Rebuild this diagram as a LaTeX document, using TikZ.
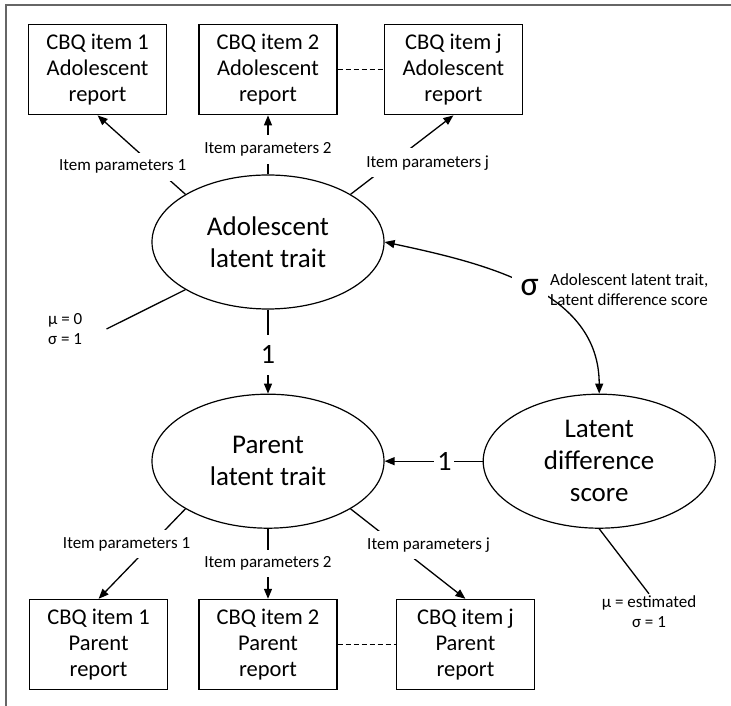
\documentclass[tikz,border=0pt]{standalone}
\usepackage{fontspec}
\setmainfont{Carlito}
\usetikzlibrary{shapes.geometric, positioning, arrows.meta}
\tikzset{report/.style = {rectangle, draw, line width=1.4pt, minimum width=138pt,
    minimum height=90pt, align=center, font=\fontsize{22.5}{26}\selectfont}}
\tikzset{trait/.style = {ellipse, draw, line width=1.2pt, minimum width=232pt,
    minimum height=134pt, inner sep=0pt, align=center, font=\fontsize{27}{32}\selectfont}}
\tikzset{param/.style = {fill=white, inner xsep=2pt, inner ysep=7pt,
    font=\fontsize{17}{20}\selectfont}}
\tikzset{note/.style = {inner sep=2pt, font=\fontsize{17}{20}\selectfont}}
\tikzset{weight/.style = {fill=white, inner sep=3pt, font=\fontsize{28}{28}\selectfont}}
\tikzset{link/.style = {line width=1.3pt}}
\tikzset{figframe/.style = {draw=gray!80!black, line width=2pt}}

\begin{document}
\begin{tikzpicture}[x=1pt, y=1pt, >={Triangle[length=10pt, width=8pt]}]
  \useasboundingbox (0,0) rectangle (731,706);
  \draw[figframe] (6,0) -- (6,701) -- (731,701);

  % latent variables
  \node[trait] (adolTrait) at (268,464) {Adolescent\\latent trait};
  \node[trait, below = 84pt of adolTrait] (parTrait) {Parent\\latent trait};
  \node[trait, right = 98pt of parTrait] (diffScore) {Latent\\difference\\score};

  % adolescent report items
  \node[report, above = 59pt of adolTrait] (adolItemTwo) {CBQ item 2\\Adolescent\\report};
  \node[report, left = 31pt of adolItemTwo] (adolItemOne) {CBQ item 1\\Adolescent\\report};
  \node[report, right = 46pt of adolItemTwo] (adolItemJ) {CBQ item j\\Adolescent\\report};

  % parent report items
  \node[report, below = 70pt of parTrait] (parItemTwo) {CBQ item 2\\Parent\\report};
  \node[report, left = 30pt of parItemTwo] (parItemOne) {CBQ item 1\\Parent\\report};
  \node[report, right = 58pt of parItemTwo] (parItemJ) {CBQ item j\\Parent\\report};

  \draw[dash pattern=on 5pt off 3pt] (adolItemTwo) -- (adolItemJ);
  \draw[dash pattern=on 5pt off 3pt] (parItemTwo) -- (parItemJ);

  \draw[link, ->] (adolTrait.150) -- node[param, pos=0.35, xshift=-32pt] (adolParOne)
    {Item parameters 1} (adolItemOne.south);
  \draw[link, ->] (adolTrait.north) -- node[param, pos=0.42, inner ysep=8pt] (adolParTwo)
    {Item parameters 2} (adolItemTwo.south);
  \draw[link, ->] (adolTrait.30) -- node[param, pos=0.4, xshift=36pt] (adolParJ)
    {Item parameters j} (adolItemJ.south);

  \draw[link, ->] (parTrait.210) -- node[param, pos=0.39, xshift=-25pt] (parParOne)
    {Item parameters 1} (parItemOne.north);
  \draw[link, ->] (parTrait.south) -- node[param, pos=0.5, inner ysep=6.5pt] (parParTwo)
    {Item parameters 2} (parItemTwo.north);
  \draw[link, ->] (parTrait.330) -- node[param, pos=0.4, xshift=32pt] (parParJ)
    {Item parameters j} (parItemJ.north);

  % structural paths
  \draw[link, ->] (adolTrait.south) -- node[weight, pos=0.54, inner ysep=11pt] (adolToPar)
    {1} (parTrait.north);
  \draw[link, ->] (diffScore.west) -- node[weight, pos=0.39] (diffToPar) {1} (parTrait.east);
  \draw[link, <->] (diffScore.north) to[out=90, in=-12]
    node[weight, inner sep=9pt, font=\fontsize{34}{34}\selectfont] (sigmaCov) {σ}
    (adolTrait.east);
  \node[note, anchor=west, align=left] (covLabel) at (548,416)
    {Adolescent latent trait,\\Latent difference score};

  % distributions
  \node[note, anchor=west, align=left] (adolMoments) at (46,377) {μ = 0\\σ = 1};
  \draw[link] (adolTrait.210) -- ([xshift=22pt]adolMoments.east);
  \node[note, align=center] (diffMoments) at (649,94) {μ = estimated\\σ = 1};
  \draw[link] (diffScore.south) -- (diffMoments.north);
\end{tikzpicture}
\end{document}
